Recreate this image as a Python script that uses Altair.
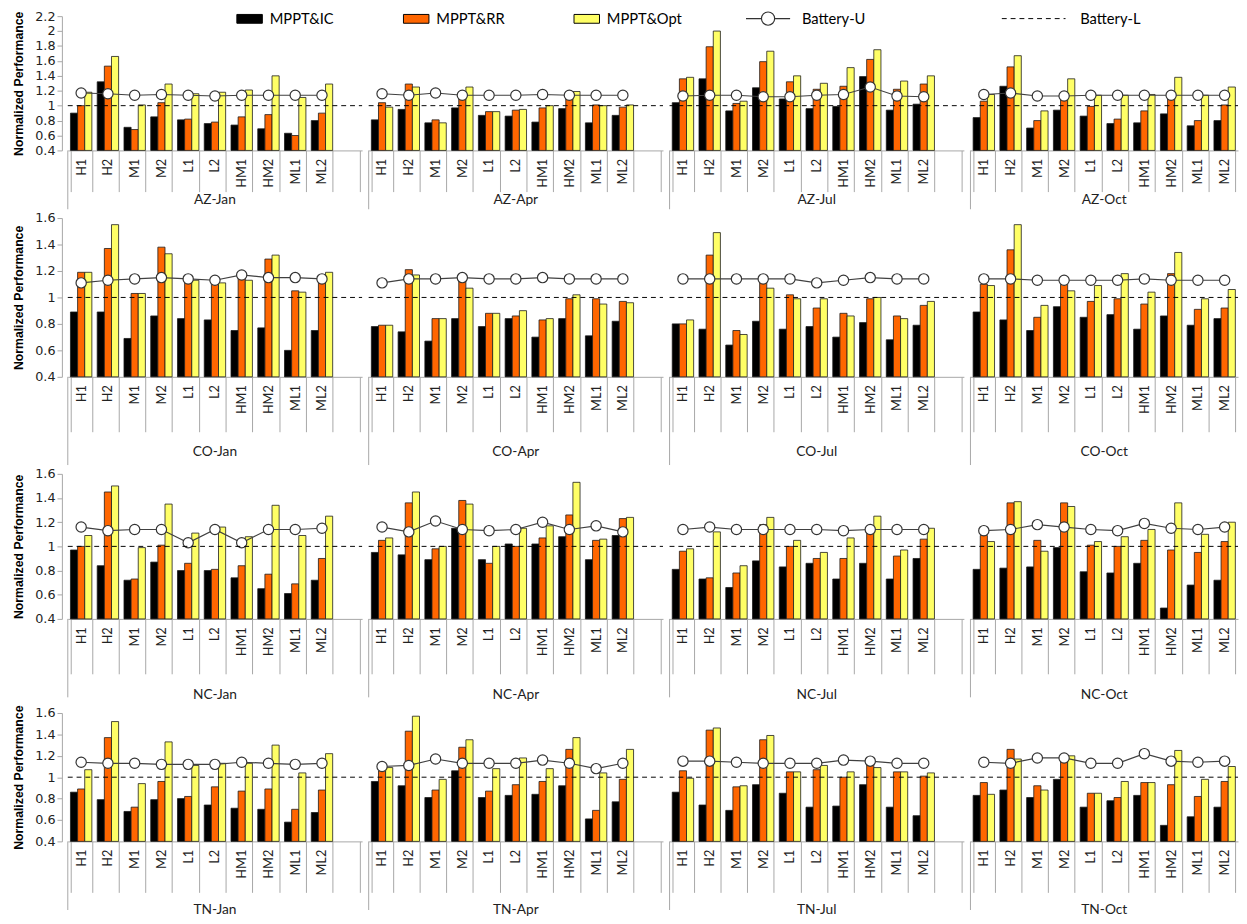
import altair as alt
import pandas as pd
import numpy as np

CATS = ["H1", "H2", "M1", "M2", "L1", "L2", "HM1", "HM2", "ML1", "ML2"]
MONTHS = ["Jan", "Apr", "Jul", "Oct"]
STATES = ["AZ", "CO", "NC", "TN"]
SERIES = ["MPPT&IC", "MPPT&RR", "MPPT&Opt"]
COLORS = ["#000000", "#FF6600", "#FFFF66"]
BATTERY_L = 1.0

# ---- AZ ----
AZ_IC = [[0.90, 1.32, 0.71, 0.85, 0.81, 0.76, 0.74, 0.69, 0.63, 0.80],
         [0.81, 0.95, 0.77, 0.97, 0.87, 0.86, 0.78, 0.96, 0.77, 0.87],
         [1.04, 1.36, 0.93, 1.24, 1.09, 0.96, 0.99, 1.39, 0.94, 1.02],
         [0.84, 1.26, 0.70, 0.94, 0.86, 0.76, 0.77, 0.89, 0.73, 0.80]]
AZ_RR = [[1.00, 1.53, 0.68, 1.04, 0.82, 0.78, 0.85, 0.88, 0.60, 0.90],
         [1.04, 1.29, 0.81, 1.11, 0.92, 0.94, 0.97, 1.11, 1.01, 0.98],
         [1.36, 1.79, 1.03, 1.59, 1.32, 1.22, 1.26, 1.62, 1.22, 1.29],
         [1.06, 1.52, 0.80, 1.13, 0.99, 0.82, 0.93, 1.13, 0.80, 1.01]]
AZ_OPT = [[1.18, 1.66, 1.01, 1.29, 1.16, 1.18, 1.21, 1.40, 1.11, 1.29],
          [0.98, 1.25, 0.77, 1.25, 0.92, 0.95, 1.00, 1.19, 1.00, 1.01],
          [1.38, 2.00, 1.06, 1.73, 1.40, 1.30, 1.51, 1.75, 1.33, 1.40],
          [1.15, 1.67, 0.93, 1.36, 1.14, 1.14, 1.15, 1.38, 1.14, 1.25]]
AZ_BU = [[1.17, 1.16, 1.14, 1.15, 1.14, 1.13, 1.14, 1.14, 1.14, 1.14],
         [1.16, 1.14, 1.17, 1.14, 1.14, 1.14, 1.15, 1.14, 1.14, 1.14],
         [1.13, 1.14, 1.14, 1.12, 1.12, 1.14, 1.15, 1.25, 1.13, 1.12],
         [1.15, 1.17, 1.13, 1.13, 1.14, 1.14, 1.14, 1.14, 1.14, 1.14]]

# ---- CO ----
CO_IC = [[0.89, 0.89, 0.69, 0.86, 0.84, 0.83, 0.75, 0.77, 0.60, 0.75],
         [0.78, 0.74, 0.67, 0.84, 0.78, 0.84, 0.70, 0.84, 0.71, 0.82],
         [0.80, 0.76, 0.64, 0.82, 0.76, 0.78, 0.70, 0.81, 0.68, 0.79],
         [0.89, 0.83, 0.75, 0.93, 0.85, 0.87, 0.76, 0.86, 0.79, 0.84]]
CO_RR = [[1.19, 1.37, 1.03, 1.38, 1.14, 1.12, 1.18, 1.29, 1.05, 1.14],
         [0.79, 1.21, 0.84, 1.14, 0.88, 0.86, 0.83, 0.99, 0.99, 0.97],
         [0.80, 1.32, 0.75, 1.14, 1.02, 0.92, 0.88, 0.99, 0.86, 0.94],
         [1.10, 1.36, 0.85, 1.10, 0.97, 0.99, 0.95, 1.18, 0.91, 0.92]]
CO_OPT = [[1.19, 1.55, 1.03, 1.33, 1.13, 1.11, 1.13, 1.32, 1.04, 1.19],
          [0.79, 1.17, 0.84, 1.07, 0.88, 0.90, 0.84, 1.02, 0.95, 0.96],
          [0.83, 1.49, 0.72, 1.07, 0.99, 0.99, 0.86, 1.00, 0.84, 0.97],
          [1.09, 1.55, 0.94, 1.05, 1.09, 1.18, 1.04, 1.34, 0.99, 1.06]]
CO_BU = [[1.11, 1.13, 1.14, 1.15, 1.14, 1.13, 1.17, 1.15, 1.15, 1.14],
         [1.11, 1.14, 1.14, 1.15, 1.14, 1.14, 1.15, 1.14, 1.14, 1.14],
         [1.14, 1.14, 1.14, 1.14, 1.14, 1.11, 1.13, 1.15, 1.14, 1.14],
         [1.14, 1.14, 1.13, 1.13, 1.13, 1.13, 1.14, 1.13, 1.13, 1.13]]

# ---- NC ----
NC_IC = [[0.97, 0.84, 0.72, 0.87, 0.80, 0.80, 0.74, 0.65, 0.61, 0.72],
         [0.95, 0.93, 0.89, 1.15, 0.89, 1.02, 1.02, 1.08, 0.89, 1.09],
         [0.81, 0.73, 0.66, 0.88, 0.83, 0.86, 0.73, 0.86, 0.73, 0.90],
         [0.81, 0.82, 0.83, 0.99, 0.79, 0.78, 0.86, 0.49, 0.68, 0.72]]
NC_RR = [[1.00, 1.45, 0.73, 1.01, 0.86, 0.81, 0.84, 0.77, 0.69, 0.90],
         [1.05, 1.36, 0.98, 1.38, 0.86, 1.00, 1.07, 1.26, 1.05, 1.23],
         [0.96, 0.74, 0.78, 1.18, 1.00, 0.90, 0.90, 1.14, 0.92, 1.06],
         [1.09, 1.36, 1.05, 1.36, 1.01, 1.00, 1.05, 0.97, 0.95, 1.04]]
NC_OPT = [[1.09, 1.50, 0.99, 1.35, 1.11, 1.16, 1.08, 1.34, 1.09, 1.25],
          [1.07, 1.45, 1.00, 1.35, 1.00, 1.15, 1.17, 1.53, 1.06, 1.24],
          [0.98, 1.12, 0.84, 1.24, 1.05, 0.95, 1.07, 1.25, 0.97, 1.15],
          [1.04, 1.37, 0.96, 1.33, 1.04, 1.08, 1.14, 1.36, 1.10, 1.20]]
NC_BU = [[1.16, 1.13, 1.14, 1.14, 1.03, 1.14, 1.03, 1.14, 1.14, 1.15],
         [1.16, 1.12, 1.21, 1.14, 1.13, 1.14, 1.20, 1.14, 1.17, 1.12],
         [1.14, 1.16, 1.14, 1.14, 1.14, 1.14, 1.13, 1.14, 1.14, 1.14],
         [1.13, 1.14, 1.18, 1.16, 1.14, 1.13, 1.19, 1.15, 1.14, 1.16]]

# ---- TN ----
TN_IC = [[0.86, 0.79, 0.68, 0.79, 0.80, 0.74, 0.71, 0.70, 0.58, 0.67],
         [0.96, 0.92, 0.81, 1.06, 0.81, 0.83, 0.84, 0.92, 0.61, 0.77],
         [0.86, 0.74, 0.69, 0.93, 0.85, 0.72, 0.73, 0.93, 0.72, 0.64],
         [0.83, 0.88, 0.81, 0.98, 0.72, 0.78, 0.83, 0.55, 0.63, 0.72]]
TN_RR = [[0.89, 1.37, 0.72, 0.96, 0.82, 0.91, 0.87, 0.89, 0.70, 0.88],
         [1.06, 1.43, 0.88, 1.28, 0.87, 0.93, 0.96, 1.26, 0.69, 0.98],
         [1.06, 1.44, 0.91, 1.35, 1.05, 1.07, 1.00, 1.14, 1.05, 1.01],
         [0.95, 1.26, 0.92, 1.17, 0.85, 0.81, 0.95, 0.93, 0.82, 0.96]]
TN_OPT = [[1.07, 1.52, 0.94, 1.33, 1.11, 1.13, 1.13, 1.30, 1.04, 1.22],
          [1.09, 1.57, 0.98, 1.35, 1.08, 1.18, 1.08, 1.37, 1.04, 1.26],
          [0.99, 1.46, 0.92, 1.39, 1.05, 1.11, 1.05, 1.09, 1.05, 1.04],
          [0.84, 1.17, 0.88, 1.20, 0.85, 0.96, 0.95, 1.25, 0.98, 1.10]]
TN_BU = [[1.14, 1.13, 1.13, 1.12, 1.12, 1.12, 1.14, 1.13, 1.12, 1.13],
         [1.10, 1.11, 1.17, 1.13, 1.13, 1.13, 1.16, 1.13, 1.08, 1.13],
         [1.15, 1.15, 1.14, 1.13, 1.13, 1.13, 1.16, 1.15, 1.13, 1.13],
         [1.14, 1.13, 1.18, 1.18, 1.13, 1.13, 1.22, 1.15, 1.14, 1.15]]

IC = {"AZ": AZ_IC, "CO": CO_IC, "NC": NC_IC, "TN": TN_IC}
RR = {"AZ": AZ_RR, "CO": CO_RR, "NC": NC_RR, "TN": TN_RR}
OPT = {"AZ": AZ_OPT, "CO": CO_OPT, "NC": NC_OPT, "TN": TN_OPT}
BU = {"AZ": AZ_BU, "CO": CO_BU, "NC": NC_BU, "TN": TN_BU}

Y_MAX = {"AZ": 2.2, "CO": 1.6, "NC": 1.6, "TN": 1.6}
Y_TITLE = {"AZ": "Normalized Performance", "CO": "Normalized  Performance",
           "NC": "Normalized Performance", "TN": "Normalized Performance"}
ROW_H = {"AZ": 137, "CO": 162, "NC": 148, "TN": 131}
TICK_LEN = {"AZ": 42, "CO": 56, "NC": 56, "TN": 52}
SEP_LEN = {"AZ": 60, "CO": 90, "NC": 80, "TN": 70}
LABEL_OFF = {"AZ": 49, "CO": 75, "NC": 76, "TN": 68}

BLANK = "_"
SORT_CATS = CATS + [BLANK]

FONT_NUM = "DejaVu Sans"
FONT_TXT = "Lato"
FONT_TITLE = "Liberation Sans Narrow, Arial Narrow, Liberation Sans"
GRAY = "#a6a6a6"


def state_frame(st):
    rows = []
    for mi, m in enumerate(MONTHS):
        grp = f"{st}-{m}"
        for ci, c in enumerate(CATS):
            rows.append({"grp": grp, "cat": c,
                         "MPPT&IC": IC[st][mi][ci], "MPPT&RR": RR[st][mi][ci],
                         "MPPT&Opt": OPT[st][mi][ci], "BU": BU[st][mi][ci],
                         "BL": BATTERY_L})
        if mi < len(MONTHS) - 1:
            rows.append({"grp": grp, "cat": BLANK, "MPPT&IC": np.nan,
                         "MPPT&RR": np.nan, "MPPT&Opt": np.nan, "BU": np.nan,
                         "BL": np.nan})
    return pd.DataFrame(rows)


# legend symbol shapes (symbolSize 100 -> unit = 5px)
BAR_PATH = "M-2.6,-0.9H2.6V0.9H-2.6Z"
BU_PATH = ("M-4.5,0H-1.35M1.35,0H4.5M1.35,0A1.35,1.35,0,1,1,-1.35,0"
           "A1.35,1.35,0,1,1,1.35,0Z")
BL_PATH = "M-6.5,0H6.5"
LEG_Y = -5


def row_chart(st, first):
    h = ROW_H[st]
    tick = TICK_LEN[st]
    sep_len = SEP_LEN[st]
    ymax = Y_MAX[st]
    ticks = [round(0.4 + 0.2 * i, 1) for i in range(int(round((ymax - 0.4) / 0.2)) + 1)]
    yscale = alt.Scale(domain=[0.4, ymax], zero=False, clamp=True, nice=False)
    yaxis = alt.Axis(values=ticks, format=".1~f", title=Y_TITLE[st],
                     titleFont=FONT_TITLE, titleFontWeight="bold",
                     titleFontSize=12.5, titleColor="#000000",
                     labelFont=FONT_NUM, labelFontSize=13,
                     labelColor="#222222", tickSize=5, tickColor=GRAY,
                     domainColor=GRAY, grid=False, titlePadding=10)

    xscale = alt.Scale(paddingInner=0.2, paddingOuter=0.1)
    xaxis = alt.Axis(title=None, labelAngle=-90, labelFont=FONT_TXT,
                     labelFontSize=13, labelColor="#222222",
                     labelExpr=f"datum.value == '{BLANK}' ? '' : datum.value",
                     ticks=True, tickBand="extent", tickSize=tick,
                     tickColor=GRAY, domainColor=GRAY, labelPadding=8 - tick,
                     labelBaseline="middle", labelAlign="right", grid=False)
    xenc = alt.X("cat:N", sort=SORT_CATS, scale=xscale, axis=xaxis)

    base = alt.Chart()

    fill_legend = alt.Legend(title=None, orient="none", direction="horizontal",
                             legendX=178, legendY=LEG_Y, symbolType=BAR_PATH,
                             symbolSize=100, symbolStrokeColor="#000000",
                             symbolStrokeWidth=1, labelFont=FONT_TXT,
                             labelFontSize=15, labelColor="#000000",
                             columnPadding=68, labelOffset=13) if first else None
    bars = base.transform_fold(SERIES, as_=["series", "value"]).mark_bar(
        stroke="#1a1a1a", strokeWidth=0.8).encode(
        x=xenc,
        xOffset=alt.XOffset("series:N", sort=SERIES, scale=alt.Scale(paddingInner=0, paddingOuter=0)),
        y=alt.Y("value:Q", scale=yscale, axis=yaxis),
        y2=alt.value("height"),
        fill=alt.Fill("series:N", scale=alt.Scale(domain=SERIES, range=COLORS),
                      legend=fill_legend),
    )

    bu_legend = alt.Legend(title=None, orient="none", legendX=707, legendY=LEG_Y,
                           symbolType=BU_PATH, symbolSize=100,
                           symbolStrokeColor="#333333", symbolFillColor="#ffffff",
                           symbolStrokeWidth=1.2, labelFont=FONT_TXT,
                           labelFontSize=15, labelColor="#000000",
                           labelOffset=27) if first else None
    line = base.transform_calculate(bu_lbl="'Battery-U'").mark_line(
        color="#404040", strokeWidth=1.2).encode(
        x=xenc,
        y=alt.Y("BU:Q", scale=yscale, axis=yaxis),
        opacity=alt.Opacity("bu_lbl:N", scale=alt.Scale(domain=["Battery-U"], range=[1]),
                            legend=bu_legend),
    )

    points = base.mark_point(
        shape="circle", filled=True, color="#ffffff", stroke="#333333",
        strokeWidth=1.2, size=110, opacity=1).encode(
        x=xenc,
        y=alt.Y("BU:Q", scale=yscale, axis=yaxis),
    )

    bl_legend = alt.Legend(title=None, orient="none", legendX=978, legendY=LEG_Y,
                           symbolType=BL_PATH, symbolSize=100,
                           symbolStrokeColor="#000000", symbolStrokeWidth=1,
                           labelFont=FONT_TXT, labelFontSize=15,
                           labelColor="#000000", labelOffset=40) if first else None
    rule = base.transform_calculate(bl_lbl="'Battery-L'").mark_rule(
        color="#000000", strokeWidth=1).encode(
        y=alt.Y("mean(BL):Q", scale=yscale, axis=yaxis),
        x=alt.value(0), x2=alt.value("width"),
        strokeDash=alt.StrokeDash("bl_lbl:N",
                                  scale=alt.Scale(domain=["Battery-L"], range=[[5, 4]]),
                                  legend=bl_legend),
    )

    sep = base.transform_filter("datum.cat == 'H1'").mark_rule(
        color=GRAY, strokeWidth=1).encode(
        x=alt.value(0), y=alt.value(h), y2=alt.value(h + sep_len))

    layered = alt.layer(bars, line, points, rule, sep, data=state_frame(st)).properties(
        width=alt.Step(7.28), height=h)

    return layered.facet(
        column=alt.Column("grp:N", sort=[f"{st}-{m}" for m in MONTHS], title=None,
                          header=alt.Header(labelOrient="bottom", labelFont=FONT_TXT,
                                            labelFontSize=14, labelColor="#222222",
                                            labelPadding=LABEL_OFF[st] - 6 - sep_len)),
        spacing=0,
    ).resolve_scale(x="independent")


rows = [row_chart(st, i == 0) for i, st in enumerate(STATES)]

chart = alt.vconcat(*rows, spacing=2).properties(
    padding={"left": 4, "top": -7, "right": 0, "bottom": 0},
    background="white",
).configure_view(stroke="transparent", strokeWidth=0)

chart.save("out.html", embed_options={"renderer": "svg", "actions": False})
